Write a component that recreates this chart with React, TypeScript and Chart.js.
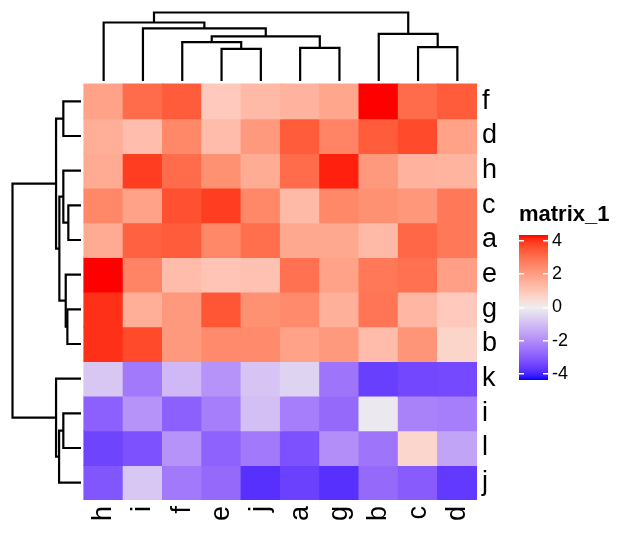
import React, { useEffect, useRef } from 'react';
import { Chart, registerables } from 'chart.js';

Chart.register(...registerables);

const FONT = '"Liberation Sans", Arial, Helvetica, sans-serif';

// ---------- data ----------
const colLabels = ['h', 'i', 'f', 'e', 'j', 'a', 'g', 'b', 'c', 'd'];
const rowLabels = ['f', 'd', 'h', 'c', 'a', 'e', 'g', 'b', 'k', 'i', 'l', 'j'];

const rowF = [1.9, 3.1, 3.4, 0.9, 1.3, 1.5, 1.8, 4.4, 3.1, 3.4];
const rowD = [1.6, 1.2, 2.5, 1.25, 2.1, 3.4, 2.6, 3.4, 3.7, 1.9];
const rowH = [1.7, 3.9, 3.1, 2.3, 1.65, 3.1, 4.2, 2.1, 1.5, 1.45];
const rowC = [2.5, 1.9, 3.6, 3.9, 2.5, 1.3, 2.5, 2.3, 2.15, 2.85];
const rowA = [1.7, 3.3, 3.4, 2.5, 3.05, 1.75, 1.75, 1.3, 3.2, 2.85];
const rowE = [4.4, 2.6, 1.25, 1.05, 1.1, 3.0, 1.9, 2.85, 3.0, 1.95];
const rowG = [4.05, 1.6, 2.1, 3.5, 2.3, 2.45, 1.55, 2.9, 1.4, 0.9];
const rowB = [4.05, 3.7, 2.1, 2.45, 2.45, 1.9, 2.1, 1.25, 2.2, 0.65];
const rowK = [-0.8, -2.4, -1.1, -1.85, -0.85, -0.55, -2.5, -3.55, -3.4, -3.35];
const rowI = [-2.9, -1.85, -2.9, -2.3, -0.95, -2.3, -2.7, -0.1, -2.2, -2.3];
const rowL = [-3.45, -3.2, -1.85, -2.85, -2.4, -3.2, -1.95, -2.5, 0.6, -1.5];
const rowJ = [-3.1, -0.8, -2.4, -2.7, -3.8, -3.5, -3.8, -2.7, -3.0, -3.65];

const matrixRows = [rowF, rowD, rowH, rowC, rowA, rowE, rowG, rowB, rowK, rowI, rowL, rowJ];

// column dendrogram merges: [child1, child2, height] (nodes named n<index>)
const colTree: [string, string, number][] = [
  ['e', 'j', 0.47],
  ['a', 'g', 0.484],
  ['c', 'd', 0.495],
  ['f', 'n0', 0.568],
  ['n3', 'n1', 0.651],
  ['b', 'n2', 0.688],
  ['i', 'n4', 0.767],
  ['h', 'n6', 0.854],
  ['n7', 'n5', 1.0],
];

// row dendrogram merges
const rowTree: [string, string, number][] = [
  ['c', 'a', 0.185],
  ['g', 'b', 0.199],
  ['e', 'n1', 0.223],
  ['f', 'd', 0.258],
  ['h', 'n0', 0.258],
  ['i', 'l', 0.258],
  ['n4', 'n2', 0.316],
  ['n5', 'j', 0.32],
  ['n3', 'n6', 0.364],
  ['k', 'n7', 0.364],
  ['n8', 'n9', 1.0],
];

const colorBreaks = [-4.35, 0, 4.35];
const legendTicks = [-4, -2, 0, 2, 4];
const legendTitle = 'matrix_1';

// ---------- layout (pixels) ----------
const W = 631;
const H = 543;
const AREA_LEFT = 10;
const AREA_TOP = 10;
const HEAT_LEFT = 84;
const HEAT_TOP = 84;
const HEAT_RIGHT = 477;
const HEAT_BOTTOM = 500;
const LEAF_PX = 81;
const ROOT_PX = 12.5;
const LEG_LEFT = 519;
const LEG_TOP = 195;
const LEG_W = 112;
const LEG_H = 185;
const LEG_BAR_W = 29;

// ---------- colour mapping (LAB interpolation blue / #EEEEEE / red) ----------
function toLin(c: number) {
  c /= 255;
  return c <= 0.04045 ? c / 12.92 : Math.pow((c + 0.055) / 1.055, 2.4);
}
function fromLin(c: number) {
  const v = c <= 0.0031308 ? 12.92 * c : 1.055 * Math.pow(c, 1 / 2.4) - 0.055;
  return Math.round(Math.min(1, Math.max(0, v)) * 255);
}
const WX = 0.95047, WY = 1.0, WZ = 1.08883;
function rgbToLab([r, g, b]: number[]) {
  const R = toLin(r), G = toLin(g), B = toLin(b);
  const X = (0.4124564 * R + 0.3575761 * G + 0.1804375 * B) / WX;
  const Y = (0.2126729 * R + 0.7151522 * G + 0.072175 * B) / WY;
  const Z = (0.0193339 * R + 0.119192 * G + 0.9503041 * B) / WZ;
  const f = (t: number) => (t > 0.008856 ? Math.cbrt(t) : 7.787 * t + 16 / 116);
  const fx = f(X), fy = f(Y), fz = f(Z);
  return [116 * fy - 16, 500 * (fx - fy), 200 * (fy - fz)];
}
function labToRgb([L, a, b]: number[]) {
  const fy = (L + 16) / 116;
  const fx = fy + a / 500;
  const fz = fy - b / 200;
  const finv = (t: number) => (t * t * t > 0.008856 ? t * t * t : (t - 16 / 116) / 7.787);
  const X = WX * finv(fx), Y = WY * finv(fy), Z = WZ * finv(fz);
  const R = 3.2404542 * X - 1.5371385 * Y - 0.4985314 * Z;
  const G = -0.969266 * X + 1.8760108 * Y + 0.041556 * Z;
  const B = 0.0556434 * X - 0.2040259 * Y + 1.0572252 * Z;
  return [fromLin(R), fromLin(G), fromLin(B)];
}
const labBlue = rgbToLab([0, 0, 255]);
const labMid = rgbToLab([238, 238, 238]);
const labRed = rgbToLab([255, 0, 0]);
function valueColor(v: number) {
  const [lo, mid, hi] = colorBreaks;
  let to = labRed;
  let t = 0;
  if (v >= mid) {
    t = Math.min(1, (v - mid) / (hi - mid));
  } else {
    to = labBlue;
    t = Math.min(1, (mid - v) / (mid - lo));
  }
  const lab = labMid.map((x, i) => x + (to[i] - x) * t);
  const [r, g, b] = labToRgb(lab);
  return `rgb(${r},${g},${b})`;
}

// ---------- dendrogram segments ----------
function dendroLines(tree: [string, string, number][], leaves: string[], leafPos: (i: number) => number) {
  const pos: Record<string, number> = {};
  const hgt: Record<string, number> = {};
  leaves.forEach((l, i) => {
    pos[l] = leafPos(i);
    hgt[l] = 0;
  });
  return tree.map(([a, b, h], k) => {
    const id = 'n' + k;
    pos[id] = (pos[a] + pos[b]) / 2;
    hgt[id] = h;
    return [
      [pos[a], hgt[a]],
      [pos[a], h],
      [pos[b], h],
      [pos[b], hgt[b]],
    ];
  });
}

export default function App() {
  const mainRef = useRef<HTMLCanvasElement>(null);
  const legRef = useRef<HTMLCanvasElement>(null);

  useEffect(() => {
    const nC = colLabels.length;
    const nR = rowLabels.length;
    const colW = (HEAT_RIGHT - HEAT_LEFT) / nC;
    const rowHgt = (HEAT_BOTTOM - HEAT_TOP) / nR;
    const xMin = -(HEAT_LEFT - AREA_LEFT) / colW;
    const yMax = nR + (HEAT_TOP - AREA_TOP) / rowHgt;
    const hSpan = LEAF_PX - ROOT_PX;
    const yTopMax = (LEAF_PX - AREA_TOP) / hSpan;
    const yTopMin = (LEAF_PX - HEAT_BOTTOM) / hSpan;
    const xLeftMax = (LEAF_PX - AREA_LEFT) / hSpan;
    const xLeftMin = (LEAF_PX - HEAT_RIGHT) / hSpan;

    const heatSets = matrixRows.map((vals, r) => ({
      type: 'bar' as const,
      xAxisID: 'x',
      yAxisID: 'y',
      data: vals.map((v, c) => ({ x: c + 0.5, y: [nR - r - 1, nR - r] })),
      backgroundColor: vals.map((v) => valueColor(v)),
      borderWidth: 0,
      barPercentage: 1,
      categoryPercentage: 1,
      grouped: false,
      inflateAmount: 0.6,
    }));

    const lineStyle = {
      type: 'line' as const,
      borderColor: '#000',
      borderWidth: 2.2,
      pointRadius: 0,
      pointHoverRadius: 0,
      fill: false,
      tension: 0,
      clip: false as const,
      borderCapStyle: 'butt' as const,
      borderJoinStyle: 'miter' as const,
    };

    const topSets = dendroLines(colTree, colLabels, (i) => i + 0.5).map((seg) => ({
      ...lineStyle,
      xAxisID: 'x',
      yAxisID: 'yTop',
      data: seg.map(([p, h]) => ({ x: p, y: h })),
    }));
    const leftSets = dendroLines(rowTree, rowLabels, (i) => nR - i - 0.5).map((seg) => ({
      ...lineStyle,
      xAxisID: 'xLeft',
      yAxisID: 'y',
      data: seg.map(([p, h]) => ({ x: h, y: p })),
    }));

    const main = new Chart(mainRef.current!, {
      type: 'bar',
      data: { datasets: [...heatSets, ...topSets, ...leftSets] as any },
      options: {
        responsive: false,
        animation: false,
        events: [],
        layout: { padding: { left: AREA_LEFT, top: AREA_TOP, right: 0, bottom: 0 } },
        plugins: { legend: { display: false }, tooltip: { enabled: false }, title: { display: false } },
        scales: {
          x: {
            type: 'linear',
            axis: 'x',
            position: 'bottom',
            min: xMin,
            max: nC,
            offset: false,
            grid: { display: false, drawTicks: false },
            border: { display: false },
            afterBuildTicks: (s: any) => {
              s.ticks = colLabels.map((_, i) => ({ value: i + 0.5 }));
            },
            ticks: {
              autoSkip: false,
              minRotation: 90,
              maxRotation: 90,
              padding: 6,
              color: '#000',
              font: { family: FONT, size: 27 },
              callback: (_v: any, i: number) => colLabels[i],
            },
            afterFit: (s: any) => {
              s.height = H - HEAT_BOTTOM;
              s.paddingLeft = 0;
              s.paddingRight = 0;
            },
          },
          y: {
            type: 'linear',
            axis: 'y',
            position: 'right',
            min: 0,
            max: yMax,
            offset: false,
            grid: { display: false, drawTicks: false },
            border: { display: false },
            afterBuildTicks: (s: any) => {
              s.ticks = rowLabels.map((_, i) => ({ value: nR - i - 0.5 }));
            },
            ticks: {
              autoSkip: false,
              padding: 5,
              color: '#000',
              font: { family: FONT, size: 27 },
              callback: (_v: any, i: number) => rowLabels[i],
            },
            afterFit: (s: any) => {
              s.width = W - HEAT_RIGHT;
              s.paddingTop = 0;
              s.paddingBottom = 0;
            },
          },
          yTop: { type: 'linear', axis: 'y', display: false, offset: false, min: yTopMin, max: yTopMax },
          xLeft: {
            type: 'linear',
            axis: 'x',
            display: false,
            offset: false,
            min: xLeftMin,
            max: xLeftMax,
            reverse: true,
          },
        },
      } as any,
    });

    // ---------- colour legend ----------
    const Q = colorBreaks[2];
    const legend = new Chart(legRef.current!, {
      type: 'bar',
      data: {
        datasets: [
          {
            data: [{ x: 0.5, y: [colorBreaks[0], colorBreaks[2]] }] as any,
            backgroundColor: (ctx: any) => {
              const chart = ctx.chart;
              if (!chart.chartArea) return valueColor(0);
              const ys = chart.scales.y;
              const y0 = ys.getPixelForValue(colorBreaks[0]);
              const y1 = ys.getPixelForValue(colorBreaks[2]);
              const g = chart.ctx.createLinearGradient(0, y0, 0, y1);
              const n = 40;
              for (let i = 0; i <= n; i++) {
                const v = colorBreaks[0] + ((colorBreaks[2] - colorBreaks[0]) * i) / n;
                g.addColorStop(i / n, valueColor(v));
              }
              return g;
            },
            borderWidth: 0,
            barThickness: LEG_BAR_W,
            inflateAmount: 0,
          },
        ],
      },
      options: {
        responsive: false,
        animation: false,
        events: [],
        layout: { padding: 0 },
        plugins: {
          legend: { display: false },
          tooltip: { enabled: false },
          title: {
            display: true,
            text: legendTitle,
            align: 'start',
            color: '#000',
            font: { family: FONT, size: 22, weight: 'bold' },
            padding: { top: 7, bottom: 6.6 },
          },
        },
        scales: {
          x: { type: 'linear', display: false, offset: false, min: 0, max: LEG_W / LEG_BAR_W },
          y: {
            position: 'left',
            min: -Q,
            max: Q,
            afterBuildTicks: (s: any) => {
              s.ticks = legendTicks.map((v) => ({ value: v }));
            },
            ticks: {
              mirror: true,
              color: '#000',
              padding: LEG_BAR_W + 4,
              font: { family: FONT, size: 18 },
              callback: (v: any) => String(v),
            },
            grid: { color: '#fff', lineWidth: 1.5, drawTicks: false, drawOnChartArea: true, z: 1 },
            border: { display: false, dash: [5, LEG_BAR_W - 10, 5, 1000] },
            afterFit: (s: any) => {
              s.width = 0;
              s.paddingTop = 0;
              s.paddingBottom = 0;
            },
          },
        },
      } as any,
    });

    return () => {
      main.destroy();
      legend.destroy();
    };
  }, []);

  return (
    <div style={{ position: 'absolute', left: 0, top: 0, width: W, height: H }}>
      <canvas ref={mainRef} width={W} height={H} style={{ position: 'absolute', left: 0, top: 0 }} />
      <canvas
        ref={legRef}
        width={LEG_W}
        height={LEG_H}
        style={{ position: 'absolute', left: LEG_LEFT, top: LEG_TOP }}
      />
    </div>
  );
}
